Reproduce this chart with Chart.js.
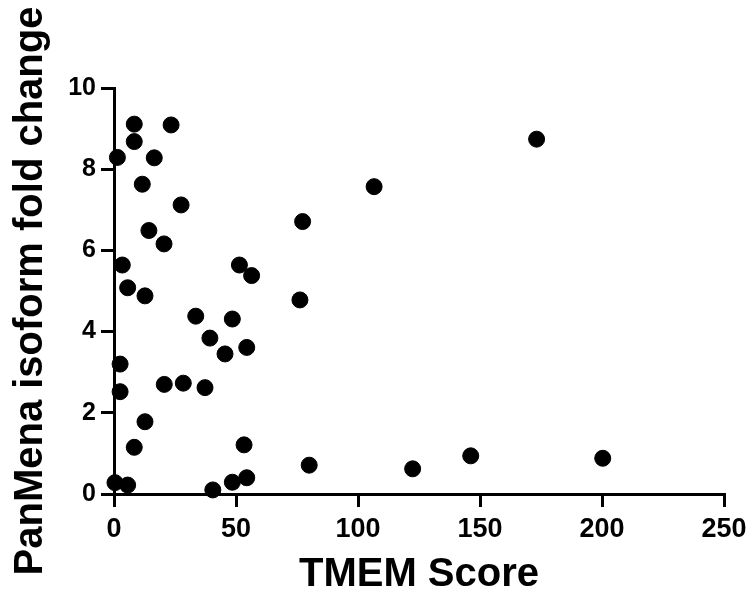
<!DOCTYPE html>
<html>
<head>
<meta charset="utf-8">
<script src="https://cdn.jsdelivr.net/npm/chart.js@4/dist/chart.umd.min.js"></script>
<style>
  body { margin: 0; background: #fff; }
  canvas { display: block; }
</style>
</head>
<body>
<canvas id="myChart" width="754" height="599"></canvas>
<script>
// TMEM score vs fold change
var tmemScore = [8.3, 23.4, 8.3, 1.4, 16.5, 11.6, 27.5, 77.3, 14.3, 20.5,
  3.4, 51.4, 56.4, 5.6, 12.7, 76.2, 33.5, 48.5, 39.3, 54.4,
  45.5, 2.5, 20.6, 28.4, 37.3, 2.5, 12.7, 8.3, 53.3, 80.0,
  0.4, 5.6, 48.5, 54.4, 40.5, 173.2, 106.6, 122.4, 146.2, 200.3];
var foldChange = [9.11, 9.09, 8.68, 8.29, 8.28, 7.63, 7.12, 6.71, 6.49, 6.16,
  5.64, 5.64, 5.38, 5.08, 4.88, 4.78, 4.38, 4.31, 3.84, 3.61,
  3.45, 3.20, 2.70, 2.73, 2.62, 2.52, 1.78, 1.15, 1.21, 0.71,
  0.28, 0.22, 0.29, 0.40, 0.10, 8.74, 7.57, 0.62, 0.94, 0.88];
var xTicks = [0, 50, 100, 150, 200, 250];
var yTicks = [0, 2, 4, 6, 8, 10];

var points = [];
for (var i = 0; i < tmemScore.length; i++) {
  points.push({x: tmemScore[i], y: foldChange[i]});
}

var fontFam = "'Liberation Sans', Arial, sans-serif";

var ctx = document.getElementById('myChart').getContext('2d');
var scatterChart = new Chart(ctx, {
  type: 'scatter',
  data: {
    datasets: [{
      data: points,
      backgroundColor: '#000',
      borderColor: '#000',
      pointRadius: 8,
      pointHoverRadius: 8,
      clip: false
    }]
  },
  options: {
    responsive: false,
    animation: false,
    layout: { padding: { top: 88, right: 30, left: 0, bottom: 0 } },
    plugins: { legend: { display: false }, tooltip: { enabled: false } },
    scales: {
      x: {
        type: 'linear',
        min: 0, max: 250,
        afterBuildTicks: function(s) { s.ticks = xTicks.map(function(v) { return {value: v}; }); },
        afterFit: function(s) { s.height = 105; },
        grid: { drawOnChartArea: false, color: '#000', lineWidth: 3, tickLength: 13 },
        border: { display: true, color: '#000', width: 3 },
        ticks: { color: '#000', padding: 6, maxRotation: 0, font: { family: fontFam, size: 27, weight: 'bold' } },
        title: { display: true, text: 'TMEM Score', color: '#000', padding: { top: 0, bottom: 0 },
          font: { family: fontFam, size: 40, weight: 'bold' } }
      },
      y: {
        type: 'linear',
        min: 0, max: 10,
        afterBuildTicks: function(s) { s.ticks = yTicks.map(function(v) { return {value: v}; }); },
        afterFit: function(s) { s.width = 114; },
        grid: { drawOnChartArea: false, color: '#000', lineWidth: 3, tickLength: 13 },
        border: { display: true, color: '#000', width: 3 },
        ticks: { color: '#000', padding: 5, font: { family: fontFam, size: 25, weight: 'bold' } },
        title: { display: true, text: 'PanMena isoform fold change', color: '#000', padding: { top: 7, bottom: 0 },
          font: { family: fontFam, size: 40, weight: 'bold' } }
      }
    }
  }
});
</script>
</body>
</html>
